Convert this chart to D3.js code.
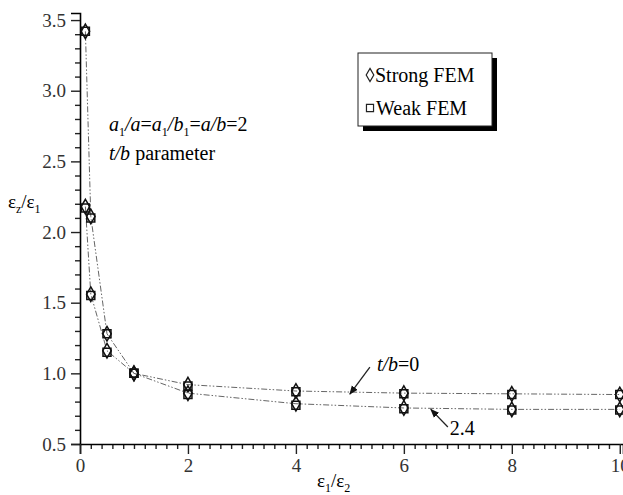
<!DOCTYPE html>
<html>
<head>
<meta charset="utf-8">
<script src="https://cdn.jsdelivr.net/npm/d3@7"></script>
<style>
  body { margin: 0; background: #fff; }
</style>
</head>
<body>
<div id="container"></div>
<script>
// ratio eps1/eps2
const ratios = [0.1, 0.2, 0.5, 1, 2, 4, 6, 8, 10];
// eps_z/eps_1 for t/b = 0
const tb0Strong = [3.42, 2.11, 1.28, 1.0, 0.92, 0.875, 0.86, 0.855, 0.85];
const tb0Weak   = [3.42, 2.10, 1.28, 1.0, 0.91, 0.87, 0.855, 0.85, 0.85];
// eps_z/eps_1 for t/b = 2.4
const tb24Strong = [2.18, 1.56, 1.16, 1.0, 0.86, 0.785, 0.755, 0.745, 0.745];
const tb24Weak   = [2.17, 1.55, 1.15, 1.0, 0.85, 0.775, 0.75, 0.74, 0.74];

const yMajor = [0.5, 1.0, 1.5, 2.0, 2.5, 3.0, 3.5];
const xMajor = [0, 2, 4, 6, 8, 10];

const width = 623, height = 495;

const svg = d3.select("#container").append("svg")
    .attr("width", width)
    .attr("height", height);

const x = d3.scaleLinear().domain([0, 10.06]).range([80, 623]);
const y = d3.scaleLinear().domain([0.5, 3.55]).range([444, 13]);

// minor tick values
const yMinor = d3.range(6, 36).map(d => d / 10).filter(v => Math.abs(v * 2 - Math.round(v * 2)) > 1e-6);
const xMinor = d3.range(0, 51).map(d => d / 5).filter(v => Math.abs(v / 2 - Math.round(v / 2)) > 1e-6);

// axes
const gy = svg.append("g").attr("transform", "translate(80,0)");
gy.call(d3.axisLeft(y).tickValues(yMinor).tickSize(5).tickFormat(""));
gy.call(g => g.select(".domain").remove());
gy.append("g").call(d3.axisLeft(y).tickValues(yMajor).tickSize(9).tickPadding(5).tickFormat(d3.format(".1f")))
    .call(g => g.select(".domain").attr("stroke-width", 1.6));

const gx = svg.append("g").attr("transform", "translate(0,444)");
gx.call(d3.axisBottom(x).tickValues(xMinor).tickSize(5).tickFormat(""));
gx.call(g => g.select(".domain").remove());
gx.append("g").call(d3.axisBottom(x).tickValues(xMajor).tickSize(10).tickPadding(5).tickFormat(d3.format("d")))
    .call(g => g.select(".domain").attr("stroke-width", 1.6));

svg.selectAll(".tick line").attr("stroke", "#222").attr("stroke-width", 1.4);
svg.selectAll(".tick text").attr("font-size", 19).attr("fill", "#333");

// series lines
const line = d3.line().x((d, i) => x(ratios[i])).y(d => y(d));
[tb0Strong, tb24Strong].forEach(s => {
    svg.append("path")
        .attr("d", line(s))
        .attr("fill", "none")
        .attr("stroke", "#666")
        .attr("stroke-width", 1)
        .attr("stroke-dasharray", "6,2,1.5,2,1.5,2");
});

// markers
const diamond = d3.symbol().type(d3.symbolDiamond).size(62);
const square = d3.symbol().type(d3.symbolSquare).size(64);

function markers(values, sym) {
    svg.append("g").selectAll("path")
        .data(values)
        .enter()
        .append("path")
        .attr("d", sym)
        .attr("transform", (d, i) => `translate(${x(ratios[i])},${y(d)})`)
        .attr("fill", "none")
        .attr("stroke", "#111")
        .attr("stroke-width", 1.5);
}
markers(tb0Weak, square);
markers(tb24Weak, square);
markers(tb0Strong, diamond);
markers(tb24Strong, diamond);

// axis titles
const yt = svg.append("text").attr("x", 8).attr("y", 208).attr("font-size", 19);
yt.append("tspan").text("ε");
yt.append("tspan").attr("font-size", 12).attr("dy", 5).text("z");
yt.append("tspan").attr("dy", -5).text("/ε");
yt.append("tspan").attr("font-size", 12).attr("dy", 5).text("1");

const xt = svg.append("text").attr("x", 317).attr("y", 487).attr("font-size", 19);
xt.append("tspan").text("ε");
xt.append("tspan").attr("font-size", 12).attr("dy", 5).text("1");
xt.append("tspan").attr("dy", -5).text("/ε");
xt.append("tspan").attr("font-size", 12).attr("dy", 5).text("2");

// parameter note
const n1 = svg.append("text").attr("x", 109).attr("y", 131).attr("font-size", 20);
n1.append("tspan").attr("font-style", "italic").text("a");
n1.append("tspan").attr("font-size", 12).attr("dy", 5).text("1");
n1.append("tspan").attr("dy", -5).attr("font-style", "italic").text("/a");
n1.append("tspan").text("=");
n1.append("tspan").attr("font-style", "italic").text("a");
n1.append("tspan").attr("font-size", 12).attr("dy", 5).text("1");
n1.append("tspan").attr("dy", -5).attr("font-style", "italic").text("/b");
n1.append("tspan").attr("font-size", 12).attr("dy", 5).text("1");
n1.append("tspan").attr("dy", -5).text("=");
n1.append("tspan").attr("font-style", "italic").text("a/b");
n1.append("tspan").text("=2");

const n2 = svg.append("text").attr("x", 109).attr("y", 160).attr("font-size", 20);
n2.append("tspan").attr("font-style", "italic").text("t/b");
n2.append("tspan").text(" parameter");

// legend
const lg = svg.append("g");
lg.append("rect").attr("x", 363).attr("y", 58).attr("width", 134).attr("height", 73).attr("fill", "#000");
lg.append("rect").attr("x", 358).attr("y", 53).attr("width", 134).attr("height", 73)
    .attr("fill", "#fff").attr("stroke", "#222").attr("stroke-width", 1);
lg.append("path").attr("d", d3.symbol().type(d3.symbolDiamond).size(50))
    .attr("transform", "translate(370,75)").attr("fill", "none").attr("stroke", "#222").attr("stroke-width", 1.2);
lg.append("text").attr("x", 375).attr("y", 82).attr("font-size", 20).text("Strong FEM");
lg.append("path").attr("d", d3.symbol().type(d3.symbolSquare).size(50))
    .attr("transform", "translate(370,108)").attr("fill", "none").attr("stroke", "#222").attr("stroke-width", 1.2);
lg.append("text").attr("x", 376).attr("y", 115).attr("font-size", 20).text("Weak FEM");

// annotations with arrows
svg.append("defs").append("marker")
    .attr("id", "head").attr("viewBox", "0 0 10 10").attr("refX", 9).attr("refY", 5)
    .attr("markerWidth", 7).attr("markerHeight", 7).attr("orient", "auto")
    .append("path").attr("d", "M0,1 L10,5 L0,9 Z").attr("fill", "#111");

const a1x = 5, a2x = 6.5;
svg.append("line")
    .attr("x1", x(a1x) + 20).attr("y1", y(0.86) - 26)
    .attr("x2", x(a1x)).attr("y2", y(tb0Strong[6]) + 1)
    .attr("stroke", "#222").attr("stroke-width", 1.3).attr("marker-end", "url(#head)");
const t1 = svg.append("text").attr("x", x(a1x) + 27).attr("y", y(0.86) - 22).attr("font-size", 20);
t1.append("tspan").attr("font-style", "italic").text("t/b");
t1.append("tspan").text("=0");

svg.append("line")
    .attr("x1", x(a2x) + 17).attr("y1", y(0.755) + 19)
    .attr("x2", x(a2x)).attr("y2", y(0.752) + 1)
    .attr("stroke", "#222").attr("stroke-width", 1.3).attr("marker-end", "url(#head)");
svg.append("text").attr("x", x(a2x) + 19).attr("y", y(0.755) + 27).attr("font-size", 20).text("2.4");

svg.selectAll("text").style("font-family", '"Liberation Serif"');
</script>
</body>
</html>
